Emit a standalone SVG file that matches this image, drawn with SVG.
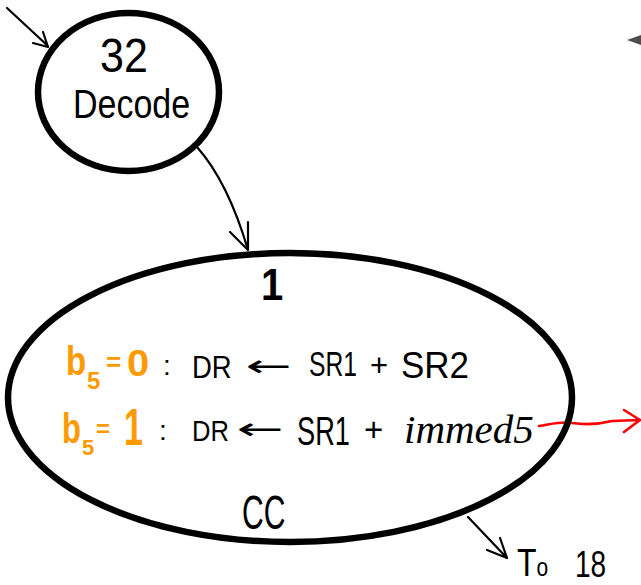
<svg xmlns="http://www.w3.org/2000/svg" width="641" height="585" viewBox="0 0 641 585">
<style>
.ring{fill:none;stroke:#000;stroke-width:6.5}
.wire{fill:none;stroke:#000;stroke-width:2.2;stroke-linecap:round;stroke-linejoin:round}
.red{fill:none;stroke:#f00;stroke-width:2.6;stroke-linecap:round;stroke-linejoin:round}
.t{font-family:"Liberation Sans",Arial,sans-serif;fill:#000}
.o{font-family:"Liberation Sans",Arial,sans-serif;fill:#ff9900;font-weight:bold}
.ar{font-family:"DejaVu Sans",sans-serif;fill:#000}
.im{font-family:"Liberation Serif","Times New Roman",serif;font-style:italic;fill:#000}
</style>
<rect width="641" height="585" fill="#fff"/>
<g id="connectors">
  <path class="wire" d="M7,8 L48,46 M33,43 L48,47 L43,32"/>
  <path class="wire" d="M197,147 Q228,182 248,250 M230,232 L248,250 L248,222"/>
  <path class="wire" d="M468,517 L507,558 M487,550 L507,558 L500,538"/>
  <path class="red" d="M539,426 C552,424 562,421 572,423 C585,425 600,424 612,421 L640,420 M624,410 L640,420 L624,432"/>
</g>
<g id="node-32">
  <ellipse class="ring" cx="128.5" cy="92" rx="90.5" ry="79"/>
  <text class="t" transform="translate(100,72) scale(1,1.13)" font-size="43">32</text>
  <text class="t" transform="translate(73,118) scale(1,1.2)" font-size="34">Decode</text>
</g>
<g id="node-1">
  <ellipse class="ring" cx="290" cy="397.5" rx="282" ry="144.5"/>
  <text class="t" transform="translate(261,300) scale(1,1.1)" font-size="40" font-weight="bold">1</text>
  <text class="o" transform="translate(66,375) scale(1,1.25)" font-size="33">b</text>
  <text class="o" transform="translate(87,389)" font-size="24">5</text>
  <text class="o" transform="translate(106,371)" font-size="26">=</text>
  <text class="o" transform="translate(127,376) scale(1,0.92)" font-size="40">0</text>
  <text class="t" transform="translate(163,375)" font-size="28">:</text>
  <text class="t" transform="translate(192,378) scale(1,1.15)" font-size="27.5">DR</text>
  <text class="ar" transform="translate(246,376) scale(1.83,1)" font-size="30">←</text>
  <text class="t" transform="translate(309,376) scale(1,1.45)" font-size="24.7">SR1</text>
  <text class="t" transform="translate(370,376)" font-size="31">+</text>
  <text class="t" transform="translate(401,378) scale(1,1.08)" font-size="35">SR2</text>
  <text class="o" transform="translate(62,443) scale(1,1.35)" font-size="31">b</text>
  <text class="o" transform="translate(82,455)" font-size="22">5</text>
  <text class="o" transform="translate(96,437)" font-size="24">=</text>
  <text class="o" transform="translate(124,445) scale(1,1.5)" font-size="34">1</text>
  <text class="t" transform="translate(159,440)" font-size="28">:</text>
  <text class="t" transform="translate(192,441) scale(1,1.15)" font-size="25.6">DR</text>
  <text class="ar" transform="translate(237,439) scale(1.87,1)" font-size="30">←</text>
  <text class="t" transform="translate(297,445) scale(1,1.5)" font-size="27.2">SR1</text>
  <text class="t" transform="translate(364,441)" font-size="33">+</text>
  <text class="im" transform="translate(404,443)" font-size="41">immed5</text>
  <text class="t" transform="translate(242,529) scale(1,1.6)" font-size="30">CC</text>
</g>
<g id="label-to18">
  <text class="t" transform="translate(517,576) scale(1,1.2)" font-size="32">T<tspan font-size="21">o</tspan></text>
  <text class="t" transform="translate(575,577) scale(1,1.3)" font-size="28">18</text>
</g>
<g id="edge-fragments" fill="#222" opacity="0.8">
  <path d="M627,40 L641,35 L641,45 Z"/>
</g>
</svg>
